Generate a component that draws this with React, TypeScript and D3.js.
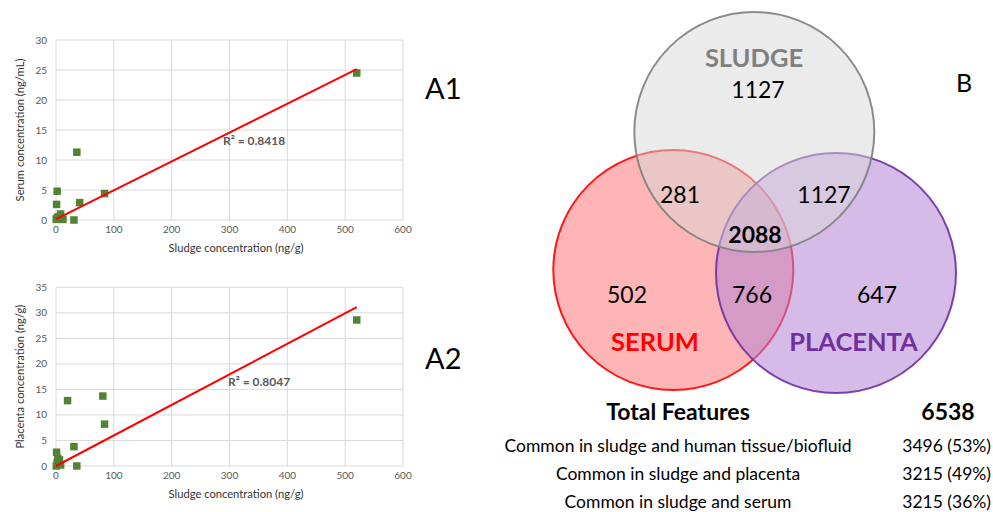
import React from "react";
import * as d3 from "d3";

// A1: sludge vs serum
const sludgeA1 = [520, 36, 84, 41, 2, 1, 31, 8, 12, 1, 3, 0.5, 5];
const serumA1 = [24.5, 11.3, 4.4, 2.9, 4.8, 2.6, 0, 1.0, 0.1, 0.2, 0.5, 0.1, 0.3];
const trendA1 = { slope: 0.0481, intercept: 0.15, r2: "R² = 0.8418" };

// A2: sludge vs placenta
const sludgeA2 = [520, 20, 81, 84, 31, 36, 1, 3, 6, 2, 8, 0.5];
const placentaA2 = [28.6, 12.8, 13.7, 8.2, 3.8, 0, 2.7, 1.5, 1.2, 0.6, 0.2, 0];
const trendA2 = { slope: 0.0598, intercept: 0.0, r2: "R² = 0.8047" };

const xTicks = [0, 100, 200, 300, 400, 500, 600];

// Venn
const vennSets = ["SLUDGE", "SERUM", "PLACENTA"];
const vennRegions = [
  { key: "sludge", count: 1127 },
  { key: "sludge-serum", count: 281 },
  { key: "sludge-placenta", count: 1127 },
  { key: "all", count: 2088 },
  { key: "serum", count: 502 },
  { key: "serum-placenta", count: 766 },
  { key: "placenta", count: 647 },
];

const totalLabel = "Total Features";
const totalValue = 6538;
const tableLabels = [
  "Common in sludge and human tissue/biofluid",
  "Common in sludge and placenta",
  "Common in sludge and serum",
];
const tableValues = ["3496 (53%)", "3215 (49%)", "3215 (36%)"];

const FONT = "Lato, 'Open Sans', sans-serif";
const GRID = "#d9d9d9";
const TICK = "#595959";

type ScatterProps = {
  xs: number[];
  ys: number[];
  yMax: number;
  top: number;
  bottom: number;
  yTitle: string;
  trend: { slope: number; intercept: number; r2: string };
  r2x: number;
  r2y: number;
};

const Scatter = ({ xs, ys, yMax, top, bottom, yTitle, trend, r2x, r2y }: ScatterProps) => {
  const x = d3.scaleLinear().domain([0, 600]).range([56, 403]);
  const y = d3.scaleLinear().domain([0, yMax]).range([bottom, top]);
  const yTicks = d3.range(0, yMax + 0.1, 5);
  const pts = xs.map((v, i) => [v, ys[i]]);
  const xEnd = d3.max(xs) as number;
  const line = d3
    .line<number>()
    .x(d => x(d))
    .y(d => y(trend.intercept + trend.slope * d));

  return (
    <g fontFamily={FONT}>
      {yTicks.map(t => (
        <g key={"y" + t}>
          <line x1={x(0)} x2={x(600)} y1={y(t)} y2={y(t)} stroke={GRID} />
          <text x={47} y={y(t) + 3.5} textAnchor="end" fontSize={10} fill={TICK}>
            {t}
          </text>
        </g>
      ))}
      {xTicks.map(t => (
        <g key={"x" + t}>
          <line x1={x(t)} x2={x(t)} y1={y(0)} y2={y(yMax)} stroke={GRID} />
          <text x={x(t)} y={y(0) + 13} textAnchor="middle" fontSize={10} fill={TICK}>
            {t}
          </text>
        </g>
      ))}
      {pts.map((p, i) => (
        <rect key={i} x={x(p[0]) - 3.75} y={y(p[1]) - 3.75} width={7.5} height={7.5} fill="#548235" />
      ))}
      <path d={line([0, xEnd]) || ""} stroke="#ff0000" strokeWidth={2} fill="none" />
      <text x={r2x} y={r2y} fontSize={12} fontWeight="bold" fill={TICK}>
        {trend.r2}
      </text>
      <text
        transform={`translate(24,${(top + bottom) / 2}) rotate(-90)`}
        textAnchor="middle"
        fontSize={11.2}
        fill="#333"
      >
        {yTitle}
      </text>
      <text x={236} y={bottom + 32} textAnchor="middle" fontSize={11.2} fill="#333">
        Sludge concentration (ng/g)
      </text>
    </g>
  );
};

const Venn = () => {
  const R = 120;
  const centers = [
    { cx: 754.3, cy: 132, fill: "#d8d8d8", op: 0.5, stroke: "#7f7f7f", text: "#808080" },
    { cx: 673.3, cy: 270, fill: "#ff5a5a", op: 0.45, stroke: "#ff0000", text: "#ff0000" },
    { cx: 836, cy: 273, fill: "#b584d6", op: 0.55, stroke: "#7030a0", text: "#7030a0" },
  ];
  const order = [1, 2, 0];
  const pos: Record<string, [number, number, boolean]> = {
    sludge: [758, 98, false],
    "sludge-serum": [680, 203, false],
    "sludge-placenta": [824, 203, false],
    all: [755, 243, true],
    serum: [627, 303, false],
    "serum-placenta": [752, 303, false],
    placenta: [877, 303, false],
  };
  const labelPos: [number, number][] = [
    [754, 67],
    [655, 351],
    [853.5, 351],
  ];
  return (
    <g fontFamily={FONT}>
      {order.map(i => (
        <circle
          key={i}
          cx={centers[i].cx}
          cy={centers[i].cy}
          r={R}
          fill={centers[i].fill}
          fillOpacity={centers[i].op}
          stroke={centers[i].stroke}
          strokeOpacity={0.9}
          strokeWidth={2}
        />
      ))}
      {vennSets.map((s, i) => (
        <text
          key={s}
          x={labelPos[i][0]}
          y={labelPos[i][1]}
          textAnchor="middle"
          fontSize={25.5}
          fontWeight="bold"
          fill={centers[i].text}
        >
          {s}
        </text>
      ))}
      {vennRegions.map(r => (
        <text
          key={r.key}
          x={pos[r.key][0]}
          y={pos[r.key][1]}
          textAnchor="middle"
          fontSize={23}
          fontWeight={pos[r.key][2] ? "bold" : "normal"}
          fill="#000"
        >
          {r.count}
        </text>
      ))}
    </g>
  );
};

const App = () => {
  return (
    <svg
      width={993}
      height={512}
      style={{ position: "absolute", left: 0, top: 0, background: "#fff" }}
    >
      <Scatter
        xs={sludgeA1}
        ys={serumA1}
        yMax={30}
        top={40}
        bottom={220}
        yTitle="Serum concentration (ng/mL)"
        trend={trendA1}
        r2x={223}
        r2y={145}
      />
      <Scatter
        xs={sludgeA2}
        ys={placentaA2}
        yMax={35}
        top={287.3}
        bottom={466}
        yTitle="Placenta concentration (ng/g)"
        trend={trendA2}
        r2x={228}
        r2y={386}
      />
      <text x={425} y={99} fontFamily={FONT} fontSize={29}>A1</text>
      <text x={425} y={369} fontFamily={FONT} fontSize={29}>A2</text>
      <Venn />
      <text x={956} y={92} fontFamily={FONT} fontSize={25}>B</text>
      <g fontFamily={FONT}>
        <text x={678} y={420} textAnchor="middle" fontSize={23} fontWeight="bold">
          {totalLabel}
        </text>
        <text x={948} y={420} textAnchor="middle" fontSize={23} fontWeight="bold">
          {totalValue}
        </text>
        {tableLabels.map((l, i) => (
          <g key={l}>
            <text x={678} y={452 + i * 28} textAnchor="middle" fontSize={17.5}>
              {l}
            </text>
            <text x={991} y={452 + i * 28} textAnchor="end" fontSize={17.5}>
              {tableValues[i]}
            </text>
          </g>
        ))}
      </g>
    </svg>
  );
};

export default App;
